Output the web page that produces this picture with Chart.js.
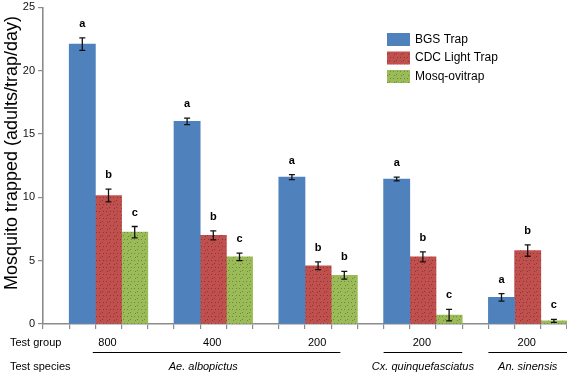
<!DOCTYPE html>
<html><head><meta charset="utf-8">
<script src="https://cdn.jsdelivr.net/npm/chart.js@4"></script>
<style>html,body{margin:0;padding:0;background:#fff;}#wrap{width:567px;height:375px;position:relative;}</style>
</head><body><div id="wrap"><canvas id="c" width="567" height="375"></canvas></div>
<script>
// ---- data ----
const testGroups = ['800', '400', '200', '200', '200'];
const species = ['Ae. albopictus', 'Cx. quinquefasciatus', 'An. sinensis'];
const speciesFirstGroup = [0, 3, 4];
const speciesLastGroup = [2, 3, 4];
const seriesNames = ['BGS Trap', 'CDC Light Trap', 'Mosq-ovitrap'];
const bgs = [22.1, 16.0, 11.6, 11.45, 2.1];
const cdc = [10.15, 7.0, 4.6, 5.3, 5.8];
const mosq = [7.25, 5.3, 3.85, 0.7, 0.25];
const bgsErr = [0.5, 0.25, 0.2, 0.15, 0.3];
const cdcErr = [0.5, 0.35, 0.3, 0.4, 0.45];
const mosqErr = [0.45, 0.3, 0.3, 0.45, 0.12];
const bgsLetters = ['a', 'a', 'a', 'a', 'a'];
const cdcLetters = ['b', 'b', 'b', 'b', 'b'];
const mosqLetters = ['c', 'c', 'b', 'c', 'c'];
const yTicks = [0, 5, 10, 15, 20, 25];
const yTitle = 'Mosquito trapped (adults/trap/day)';
const rowLabels = ['Test group', 'Test species'];

const FONT = '"Liberation Sans", Arial, Helvetica, sans-serif';
const values = [bgs, cdc, mosq];
const errs = [bgsErr, cdcErr, mosqErr];
const letters = [bgsLetters, cdcLetters, mosqLetters];

function dotPattern(base, dot) {
  const c = document.createElement('canvas');
  c.width = 7; c.height = 7;
  const g = c.getContext('2d');
  g.fillStyle = base; g.fillRect(0, 0, 7, 7);
  g.fillStyle = dot;
  g.fillRect(1, 1, 1, 1); g.fillRect(4, 4, 1, 1); g.fillRect(5, 1, 1, 1); g.fillRect(2, 5, 1, 1);
  return g.createPattern(c, 'repeat');
}
const colors = ['#4F81BD', dotPattern('#C0504D', '#8e3533'), dotPattern('#9BBB59', '#6e8a37')];

// 4 slots per group: gap, BGS, CDC, Mosq
const labels = [];
testGroups.forEach(() => { for (let k = 0; k < 4; k++) labels.push(''); });
const datasets = values.map((arr, d) => {
  const data = labels.map(() => null);
  arr.forEach((v, g) => { data[g * 4 + 1 + d] = v; });
  return { label: seriesNames[d], data, backgroundColor: colors[d], borderWidth: 0,
           barPercentage: 1, categoryPercentage: 1 };
});

const errorPlugin = {
  id: 'errs',
  afterDatasetsDraw(chart) {
    const ctx = chart.ctx, y = chart.scales.y;
    ctx.save();
    values.forEach((arr, d) => {
      const meta = chart.getDatasetMeta(d);
      arr.forEach((v, g) => {
        const el = meta.data[g * 4 + 1 + d];
        const x = el.x;
        const yt = y.getPixelForValue(v + errs[d][g]);
        const yb = y.getPixelForValue(v - errs[d][g]);
        ctx.strokeStyle = '#111'; ctx.lineWidth = 1.3;
        ctx.beginPath();
        ctx.moveTo(x, yt); ctx.lineTo(x, yb);
        ctx.moveTo(x - 3, yt); ctx.lineTo(x + 3, yt);
        ctx.moveTo(x - 3, yb); ctx.lineTo(x + 3, yb);
        ctx.stroke();
        ctx.fillStyle = '#000';
        ctx.font = 'bold 11px ' + FONT;
        ctx.textAlign = 'center'; ctx.textBaseline = 'middle';
        ctx.fillText(letters[d][g], x, yt - 14);
      });
    });
    ctx.restore();
  }
};

const decoPlugin = {
  id: 'deco',
  afterDraw(chart) {
    const ctx = chart.ctx;
    ctx.save();
    // y title
    ctx.save();
    ctx.translate(12, 153);
    ctx.rotate(-Math.PI / 2);
    ctx.font = '18px ' + FONT;
    ctx.fillStyle = '#000';
    ctx.textAlign = 'center'; ctx.textBaseline = 'middle';
    ctx.fillText(yTitle, 0, 0);
    ctx.restore();
    // legend
    chart.data.datasets.forEach((ds, i) => {
      const by = 33 + i * 18.5;
      ctx.fillStyle = ds.backgroundColor;
      ctx.fillRect(387, by, 23, 13);
      ctx.fillStyle = '#000';
      ctx.font = '12px ' + FONT;
      ctx.textAlign = 'left'; ctx.textBaseline = 'middle';
      ctx.fillText(ds.label, 415, by + 6.5);
    });
    // bottom rows
    const metaR = chart.getDatasetMeta(1);
    const metaB = chart.getDatasetMeta(0);
    const metaG = chart.getDatasetMeta(2);
    ctx.fillStyle = '#000';
    ctx.font = '11px ' + FONT;
    ctx.textAlign = 'left'; ctx.textBaseline = 'middle';
    ctx.fillText(rowLabels[0], 10, 343);
    ctx.fillText(rowLabels[1], 10, 367);
    ctx.textAlign = 'center';
    testGroups.forEach((t, g) => {
      const el = metaR.data[g * 4 + 2];
      ctx.fillText(t, el.x - 1, 343);
    });
    species.forEach((s, k) => {
      const a = metaB.data[speciesFirstGroup[k] * 4 + 1];
      const b = metaG.data[speciesLastGroup[k] * 4 + 3];
      let x0 = a.x - a.width / 2, x1 = b.x + b.width / 2;
      if (speciesLastGroup[k] > speciesFirstGroup[k]) { x0 += a.width * 0.9; x1 -= b.width * 0.65; }
      ctx.strokeStyle = '#000'; ctx.lineWidth = 1.2;
      ctx.beginPath(); ctx.moveTo(x0, 352.5); ctx.lineTo(x1, 352.5); ctx.stroke();
      ctx.font = 'italic 11px ' + FONT;
      const mid = speciesLastGroup[k] > speciesFirstGroup[k]
        ? metaR.data[Math.round((speciesFirstGroup[k] + speciesLastGroup[k]) / 2) * 4 + 2].x - 10
        : (x0 + x1) / 2;
      ctx.fillText(s, mid, 367);
    });
    ctx.restore();
  }
};

new Chart(document.getElementById('c'), {
  type: 'bar',
  data: { labels, datasets },
  options: {
    responsive: false,
    animation: false,
    devicePixelRatio: 1,
    layout: { padding: 0 },
    plugins: { legend: { display: false }, tooltip: { enabled: false } },
    scales: {
      x: {
        stacked: true,
        afterFit(s) { s.height = 51; },
        ticks: { display: false },
        grid: { drawOnChartArea: false, drawTicks: true, tickLength: 5, color: '#8c8c8c', lineWidth: 1.2 },
        border: { display: true, color: '#8c8c8c', width: 1.6 }
      },
      y: {
        stacked: true,
        min: 0, max: 25,
        afterFit(s) { s.width = 43; },
        afterBuildTicks(s) { s.ticks = yTicks.map(v => ({ value: v })); },
        ticks: { color: '#111', font: { family: FONT, size: 11, lineHeight: 0.8 }, padding: 3 },
        grid: { drawOnChartArea: false, drawTicks: true, tickLength: 5, color: '#8c8c8c', lineWidth: 1.2 },
        border: { display: true, color: '#8c8c8c', width: 1.6 }
      }
    }
  },
  plugins: [errorPlugin, decoPlugin]
});
</script></body></html>
